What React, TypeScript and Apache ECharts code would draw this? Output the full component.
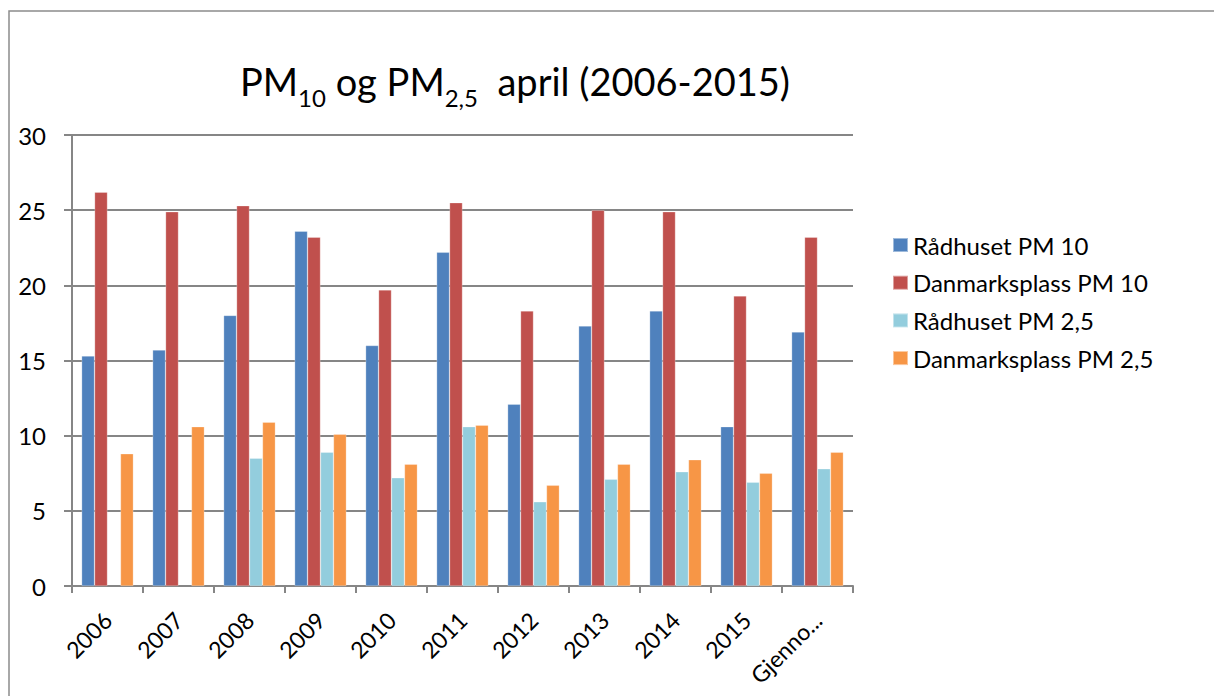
import React, { useEffect, useRef } from "react";
import * as echarts from "echarts";

const categories = ["2006", "2007", "2008", "2009", "2010", "2011", "2012", "2013", "2014", "2015", "Gjenno..."];
const radhusetPM10 = [15.3, 15.7, 18.0, 23.6, 16.0, 22.2, 12.1, 17.3, 18.3, 10.6, 16.9];
const danmarksplassPM10 = [26.2, 24.9, 25.3, 23.2, 19.7, 25.5, 18.3, 25.0, 24.9, 19.3, 23.2];
const radhusetPM25 = [null, null, 8.5, 8.9, 7.2, 10.6, 5.6, 7.1, 7.6, 6.9, 7.8];
const danmarksplassPM25 = [8.8, 10.6, 10.9, 10.1, 8.1, 10.7, 6.7, 8.1, 8.4, 7.5, 8.9];
const seriesNames = ["Rådhuset PM 10", "Danmarksplass PM 10", "Rådhuset PM 2,5", "Danmarksplass PM 2,5"];
const colors = ["#4F81BD", "#C0504D", "#93CDDD", "#F79646"];

const FONT = "Lato, 'Open Sans', sans-serif";

export default function App() {
  const ref = useRef<HTMLDivElement>(null);
  useEffect(() => {
    if (!ref.current) return;
    const chart = echarts.init(ref.current, undefined, { renderer: "svg" });
    const data = [radhusetPM10, danmarksplassPM10, radhusetPM25, danmarksplassPM25];
    chart.setOption({
      animation: false,
      color: colors,
      textStyle: { fontFamily: FONT },
      title: {
        text: "{m|PM}{s|10}{m| og PM}{s|2,5}{m|  april (2006-2015)}",
        left: 240,
        top: 52,
        padding: 0,
        textStyle: {
          fontWeight: "normal",
          rich: {
            m: { fontSize: 38, fontFamily: FONT, fontWeight: "normal", color: "#000", lineHeight: 57 },
            s: { fontSize: 24, fontFamily: FONT, fontWeight: "normal", color: "#000", lineHeight: 12, verticalAlign: "bottom" },
          },
        },
      },
      graphic: [
        {
          type: "rect",
          shape: { x: 9, y: 11, width: 1400, height: 900 },
          style: { fill: "none", stroke: "#8c8c8c", lineWidth: 1.5 },
          silent: true,
        },
      ],
      legend: {
        orient: "vertical",
        left: 892,
        top: 233,
        padding: 0,
        itemWidth: 15,
        itemHeight: 14,
        itemGap: 13.7,
        icon: "rect",
        textStyle: { fontSize: 24, fontFamily: FONT, color: "#000", lineHeight: 24 },
        data: seriesNames,
      },
      grid: { left: 72, right: 361, top: 135, bottom: 110, containLabel: false },
      xAxis: {
        type: "category",
        data: categories,
        boundaryGap: true,
        axisLine: { lineStyle: { color: "#868686", width: 2 } },
        axisTick: { show: true, length: 7, lineStyle: { color: "#868686", width: 2 } },
        axisLabel: { rotate: 45, margin: 30, fontSize: 23, color: "#000", fontFamily: FONT, interval: 0 },
      },
      yAxis: {
        type: "value",
        min: 0,
        max: 30,
        interval: 5,
        axisLine: { show: true, lineStyle: { color: "#868686", width: 2 } },
        axisTick: { show: true, length: 8, lineStyle: { color: "#868686", width: 2 } },
        axisLabel: { margin: 26, fontSize: 24, color: "#000", fontFamily: FONT },
        splitLine: { lineStyle: { color: "#868686", width: 2 } },
      },
      series: seriesNames.map((name, i) => ({
        name,
        type: "bar",
        data: data[i],
        barGap: "0%",
        barCategoryGap: "27%",
        itemStyle: { color: colors[i], borderColor: "rgba(255,255,255,0.45)", borderWidth: 0.6 },
      })),
    });
    return () => chart.dispose();
  }, []);
  return <div ref={ref} style={{ position: "fixed", left: 0, top: 0, width: 1214, height: 696, background: "#fff" }} />;
}
